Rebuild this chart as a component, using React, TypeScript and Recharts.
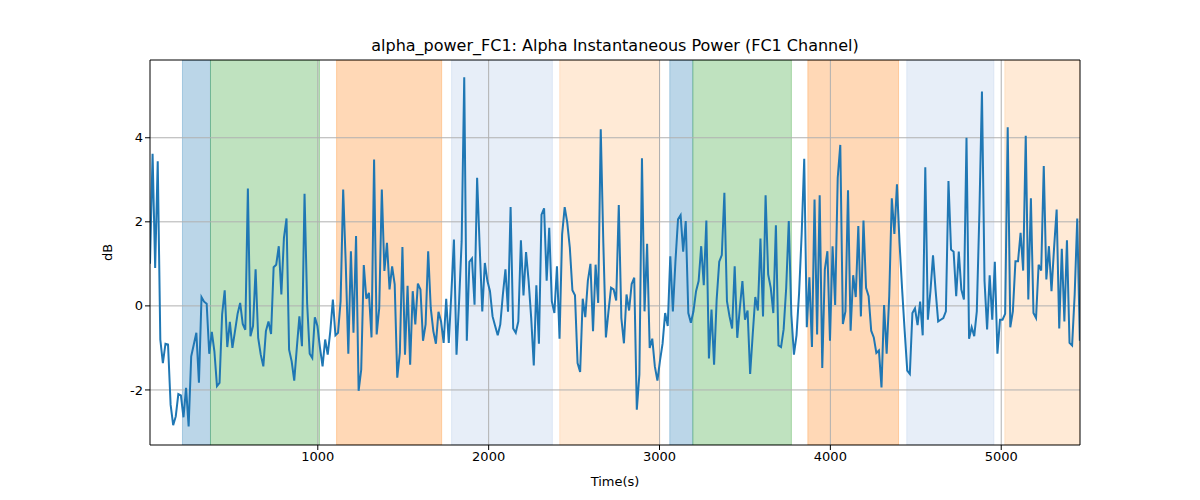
import { Line, LineChart, ReferenceArea, ReferenceLine, XAxis, YAxis } from "recharts";

// sampled signal, first and last sample time (s)
const T_START = 18;
const T_END = 5460;

// dB values, left to right
const power = [
  1.0, 3.62, 0.9, 3.44, -0.8, -1.36, -0.9, -0.92, -2.35, -2.84, -2.63, -2.1, -2.13, -2.65, -1.95, -2.87, -1.2, -0.92,
  -0.64, -1.83, 0.21, 0.1, 0.05, -1.14, -0.62, -1.08, -1.91, -1.83, -0.2, 0.37, -0.98, -0.38, -1.0, -0.6, -0.19, 0.07,
  -0.43, -0.57, 2.79, -0.72, -0.48,
  0.87, -0.76, -1.16, -1.44, -0.6, -0.37, -0.67, 0.92, 0.98, 1.42, 0.27, 1.62, 2.08, -1.04, -1.32, -1.78, -1.0, -0.25,
  -0.96, 2.67, 0.07, -1.14, -1.24, -0.27, -0.48, -1.0, -1.44, -0.8, -1.16, -0.6, 0.15, -0.7, -0.64, 0.11, 2.77, 1.0,
  -1.14, 1.3, -0.64,
  1.66, -2.02, -1.52, 0.97, 0.17, 0.31, -0.75, 3.48, -0.68, -0.05, 2.77, 0.83, 1.5, 0.39, 0.94, 0.51, -1.71, -1.12, 1.4,
  -1.16, 0.48, -1.4, 0.35, -0.44, 0.53, 0.39, -0.83, -0.44, 1.3, -0.05, -0.6, -0.9, -0.14, -0.37, -0.88, 0.17, -0.88,
  0.3, 1.58, -1.16,
  0.1, 1.54, 5.44, -0.83, 1.05, 1.13, 0.03, 3.05, 1.4, -0.13, 1.02, 0.59, 0.35, -0.25, -0.48, -0.7, -0.44, 0.27, 0.87,
  -0.14, 2.35, -0.54, -0.64, -0.37, 1.56, 0.25, 1.28, 0.59, -0.29, -1.42, 0.49, -0.9, 2.17, 2.32, 0.6, 1.86, 0.11,
  -0.17, 0.94, -0.78,
  1.7, 2.35, 1.98, 1.38, 0.37, 0.25, -1.36, -1.57, 0.17, -0.27, 0.6, 1.0, -0.6, 0.98, 0.07, 4.2, 1.5, -0.75, -0.13, 0.43,
  0.39, 0.13, 2.4, -0.29, -0.89, 0.27, -0.11, 0.52, 0.67, -2.47, -1.63, 3.51, -0.13, 1.48, -1.0, -0.78, -1.44, -1.78,
  -1.3, -0.9,
  -0.17, -0.48, 1.18, -0.13, 1.06, 2.06, 2.16, 1.29, 2.02, -0.17, -0.4, -0.13, 0.35, 0.59, 1.42, 0.49, 2.03, -1.25,
  -0.09, -1.4, 0.15, 1.05, 1.21, 2.69, 0.11, -0.25, -0.54, 0.94, -0.76, -0.05, 0.59, -0.33, -0.11, -1.62, -0.68, 0.21,
  -0.11, 1.6, -0.25, 2.63, 0.75,
  0.43, -0.17, 1.92, -0.94, -0.98, -0.56, 0.43, 2.02, -0.21, -1.16, -0.7, 0.3, 1.7, 3.5, -0.51, 0.68, -0.98, 2.53,
  -0.68, 2.63, -1.48, 0.87, 1.3, -0.83, 1.42, 0.02, 3.05, 3.83, -0.43, -0.13, 2.75, -0.59, 0.73, 0.21, 1.9, -0.25,
  2.03, 0.43, 0.23, -0.59,
  -0.75, -1.12, -1.06, -1.94, 0.02, -1.14, 0.23, 2.56, 1.71, 2.89, 1.5, 0.4, -0.6, -1.54, -1.62, -0.17, -0.06, -0.46,
  0.1, -0.7, 3.3, -0.33, 0.35, 1.2, 0.37, -0.37, -0.33, -0.29, -0.13, 2.97, 1.34, 1.29, 0.23, 1.29, 0.39, 0.15, 4.0,
  -0.78, -0.51, -0.72,
  -0.13, 2.2, 5.1, 0.59, -0.56, 0.73, -0.33, 1.05, -1.14, -0.33, -0.33, -0.19, 4.25, -0.51, -0.13, 1.06, 1.06, 1.74,
  0.84, 4.05, 0.15, 2.56, -0.17, -0.29, 0.98, 0.84, 3.33, 0.63, 1.42, 0.35, 1.38, 2.29, -0.54, 1.36, -0.37, 1.56,
  -0.88, -0.94, 0.27, 2.08, -0.83,
];

// shaded segments
const bandStart = [208, 372, 1110, 1783, 2416, 3060, 3195, 3868, 4447, 5021];
const bandEnd = [372, 1010, 1725, 2373, 3002, 3195, 3772, 4399, 4957, 5461];
const bandColor = [
  "#1f77b4", "#2ca02c", "#ff7f0e", "#aec7e8", "#ffbb78",
  "#1f77b4", "#2ca02c", "#ff7f0e", "#aec7e8", "#ffbb78",
];

const xTicks = [1000, 2000, 3000, 4000, 5000];
const yTicks = [-2, 0, 2, 4];

const X_DOMAIN = [18, 5461];
const Y_DOMAIN = [-3.31, 5.85];

const TICK = { fill: "#000", fontSize: 13 };
const GRID = "#b0b0b0";

export default function App() {
  const step = (T_END - T_START) / (power.length - 1);
  const data = power.map((v, i) => ({ t: T_START + i * step, v }));

  return (
    <div
      style={{
        position: "absolute",
        left: 0,
        top: 0,
        width: 1200,
        height: 500,
        background: "#fff",
        fontFamily: "'DejaVu Sans', sans-serif",
      }}
    >
      <div
        style={{
          position: "absolute",
          left: 0,
          top: 37,
          width: 1230,
          textAlign: "center",
          fontSize: 16,
          lineHeight: "18px",
          color: "#000",
        }}
      >
        alpha_power_FC1: Alpha Instantaneous Power (FC1 Channel)
      </div>
      <LineChart width={1200} height={500} data={data} margin={{ top: 60, right: 120, bottom: 10, left: 100 }}>
        <XAxis
          dataKey="t"
          type="number"
          domain={X_DOMAIN}
          ticks={xTicks}
          allowDataOverflow
          tick={TICK}
          tickSize={5}
          tickLine={{ stroke: "#000" }}
          axisLine={{ stroke: "#000" }}
          height={45}
          label={{ value: "Time(s)", position: "insideBottom", offset: 4, fill: "#000", fontSize: 13 }}
        />
        <YAxis
          type="number"
          domain={Y_DOMAIN}
          ticks={yTicks}
          allowDataOverflow
          tick={TICK}
          tickSize={5}
          tickLine={{ stroke: "#000" }}
          axisLine={{ stroke: "#000" }}
          width={50}
          label={{
            value: "dB",
            angle: -90,
            position: "insideLeft",
            offset: 7,
            fill: "#000",
            fontSize: 13,
            style: { textAnchor: "middle" },
          }}
        />
        {bandStart.map((x1, i) => (
          <ReferenceArea
            key={`band-${i}`}
            x1={x1}
            x2={bandEnd[i]}
            fill={bandColor[i]}
            fillOpacity={0.3}
            stroke={bandColor[i]}
            strokeOpacity={0.3}
            ifOverflow="hidden"
          />
        ))}
        {xTicks.map((x) => (
          <ReferenceLine key={`gx-${x}`} x={x} stroke={GRID} strokeWidth={1} />
        ))}
        {yTicks.map((y) => (
          <ReferenceLine key={`gy-${y}`} y={y} stroke={GRID} strokeWidth={1} />
        ))}
        <Line type="linear" dataKey="v" stroke="#1f77b4" strokeWidth={2} dot={false} isAnimationActive={false} />
        {/* top and right spines */}
        <ReferenceLine y={Y_DOMAIN[1]} stroke="#000" strokeWidth={1} ifOverflow="extendDomain" />
        <ReferenceLine x={X_DOMAIN[1]} stroke="#000" strokeWidth={1} ifOverflow="extendDomain" />
      </LineChart>
    </div>
  );
}
